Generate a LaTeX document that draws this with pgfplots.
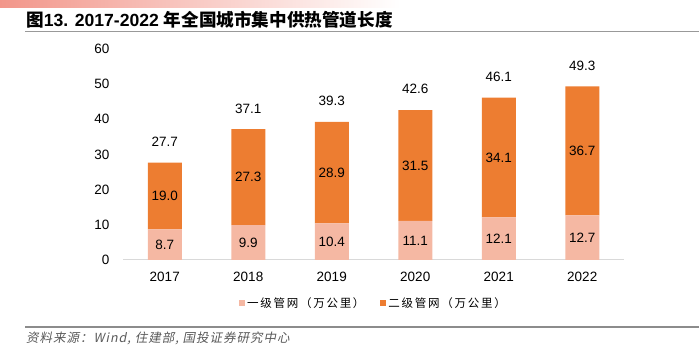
\documentclass[border=0pt]{standalone}
\usepackage{pgfplots}
\pgfplotsset{compat=1.18}
\usepackage{pgfplotstable}
\usepackage{fontspec}
\setmainfont{Liberation Sans}
\newfontfamily\cjk{Noto Sans CJK SC}
\newfontfamily\cjkleg[LetterSpace=15]{Noto Sans CJK SC}
\newfontfamily\cjkit[FakeSlant=0.2,LetterSpace=8]{Noto Sans CJK SC}
\definecolor{light}{HTML}{F5B8A3}
\definecolor{dark}{HTML}{ED7D31}
\definecolor{grad}{HTML}{F2968A}
\pgfplotstableread{
x a b t
0 8.7 19.0 27.7
1 9.9 27.3 37.1
2 10.4 28.9 39.3
3 11.1 31.5 42.6
4 12.1 34.1 46.1
5 12.7 36.7 49.3
}\data
\pgfplotsset{
  common/.style={at={(123pt,91pt)}, anchor=south west, scale only axis,
    width=501pt, height=211pt, xmin=-0.5, xmax=5.5, ymin=0, ymax=60},
  lab/.style={only marks, mark=none, point meta=explicit,
    nodes near coords={\pgfmathprintnumber[fixed,fixed zerofill,precision=1]{\pgfplotspointmeta}},
    every node near coord/.append style={anchor=center, font=\fontsize{13.5}{15}\selectfont, text=black}},
}
\begin{document}
\begin{tikzpicture}
\path[use as bounding box] (0pt,0pt) rectangle (699pt,351pt);
\shade[left color=grad, right color=white] (0pt,343pt) rectangle (400pt,351pt);
\node[anchor=base west, inner sep=0] at (26pt,324pt) {\fontsize{17.6}{20}\selectfont\bfseries{\cjk 图}13. 2017-2022 {\cjk 年全国城市集中供热管道长度}};
\draw[black!40, line width=1.5pt] (25pt,319.5pt) -- (699pt,319.5pt);
\draw[black!45, line width=1.2pt] (25pt,24pt) -- (699pt,24pt);
\node[anchor=west, inner sep=0, text=black!65] at (26pt,13pt) {\fontsize{12.5}{14}\selectfont\cjkit 资料来源：Wind,~住建部,~国投证券研究中心};
\begin{axis}[common,
  ytick={0,10,...,60}, xtick=data, xticklabels={2017,2018,2019,2020,2021,2022},
  ybar stacked, bar width=34pt,
  axis lines*=left, y axis line style={draw=none},
  x axis line style={draw=black!15, line width=1pt},
  major tick length=0pt,
  tick label style={font=\fontsize{13.5}{15}\selectfont},
  /pgf/number format/assume math mode=true,
  yticklabel style={xshift=-10pt}, xticklabel style={yshift=-9pt},
  legend style={at={(0.5,-0.204)}, anchor=center, draw=none, fill=none,
    font=\cjkleg\fontsize{11.5}{12}\selectfont, legend columns=2,
    /tikz/every even column/.append style={column sep=14pt}},
  legend image code/.code={\fill[#1] (0pt,-3pt) rectangle (6pt,3pt);},
]
\addplot[fill=light, draw=none] table[x=x, y=a]{\data};
\addlegendentry{一级管网（万公里）}
\addplot[fill=dark, draw=none] table[x=x, y=b]{\data};
\addlegendentry{二级管网（万公里）}
\end{axis}
\begin{axis}[common, hide axis, /pgf/number format/assume math mode=true]
\addplot[lab] table[x=x, y expr=\thisrow{a}/2, meta=a]{\data};
\addplot[lab] table[x=x, y expr=\thisrow{a}+\thisrow{b}/2, meta=b]{\data};
\addplot[lab, every node near coord/.append style={yshift=21pt}] table[x=x, y=t, meta=t]{\data};
\end{axis}
\end{tikzpicture}
\end{document}
